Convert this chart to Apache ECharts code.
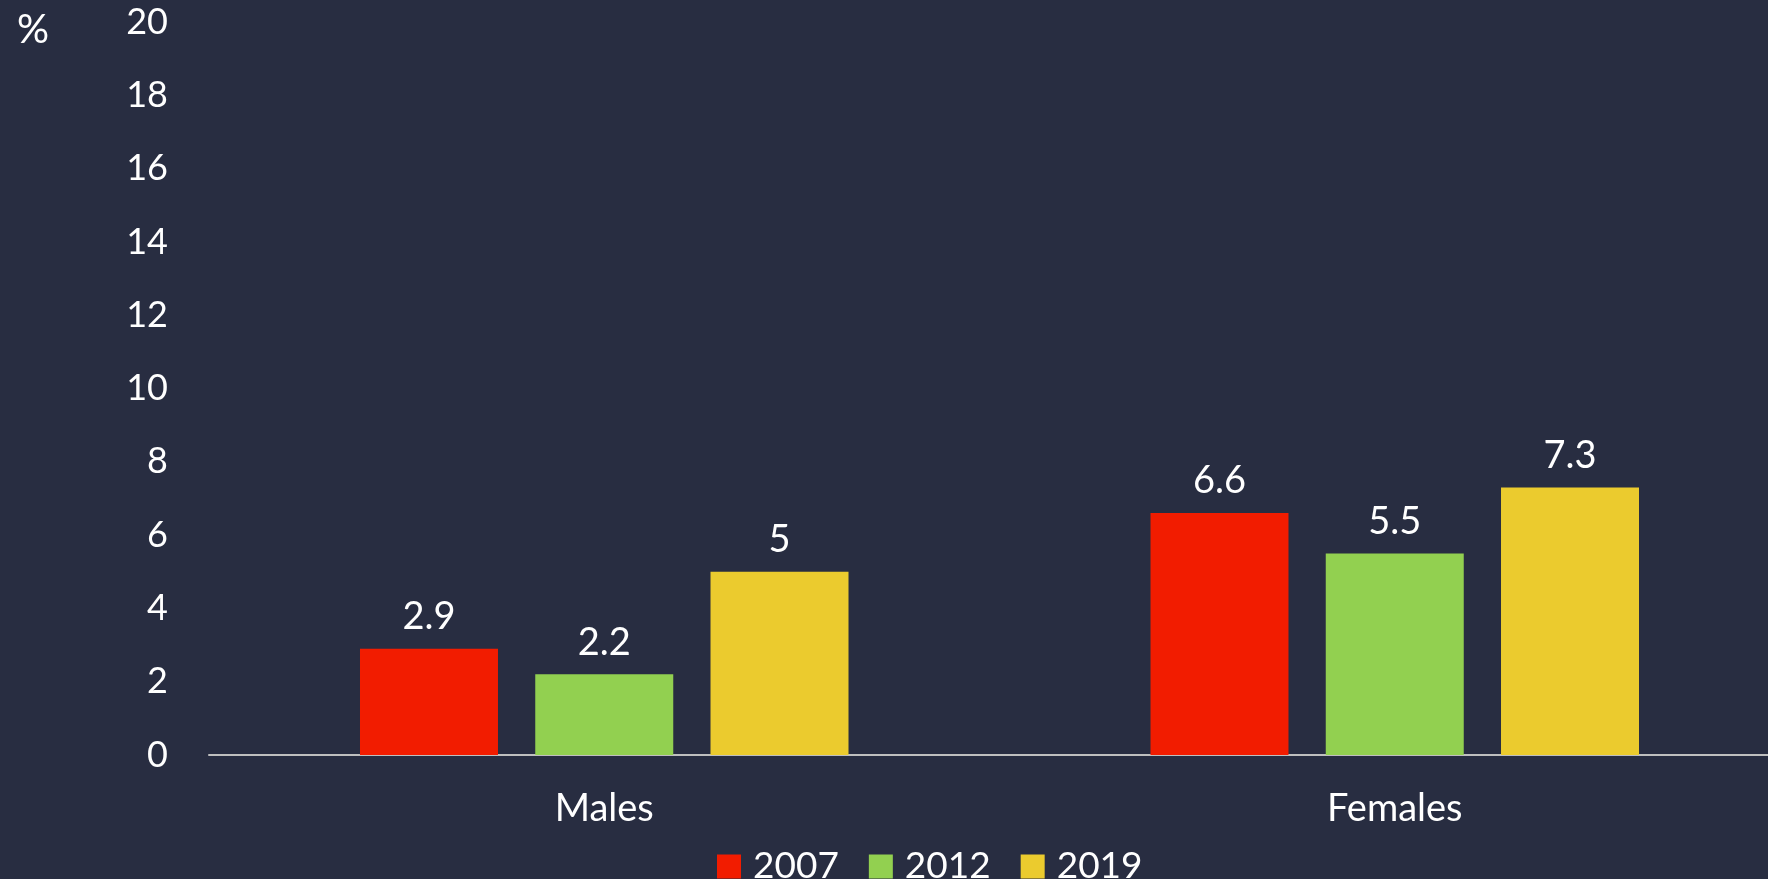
<!DOCTYPE html>
<html>
<head>
<meta charset="utf-8">
<script src="https://cdn.jsdelivr.net/npm/echarts@6/dist/echarts.min.js"></script>
<style>
  html, body { margin: 0; padding: 0; background: #282d41; }
  #main { width: 1768px; height: 879px; }
</style>
</head>
<body>
<div id="main"></div>
<script>
// 类别与年份
var categories = ['Males', 'Females'];
var years = ['2007', '2012', '2019'];
// 各年份数值 (%)
var values2007 = [2.9, 6.6];
var values2012 = [2.2, 5.5];
var values2019 = [5, 7.3];
var colors = ['#f21c00', '#92d050', '#ebcb2e'];

var fontFamily = 'Lato, "Open Sans", sans-serif';

function makeSeries(name, data, color) {
    return {
        name: name,
        type: 'bar',
        data: data,
        barWidth: 138,
        barGap: '27%',
        itemStyle: { color: color },
        label: {
            show: true,
            position: 'top',
            distance: 13,
            color: '#ffffff',
            fontSize: 38,
            fontFamily: fontFamily
        }
    };
}

var myChart = echarts.init(document.getElementById('main'));
var option = {
    backgroundColor: '#282d41',
    animation: false,
    textStyle: { fontFamily: fontFamily },
    grid: { left: 209, right: -22, top: 22, bottom: 124, outerBoundsMode: 'none' },
    legend: {
        data: years,
        top: 843,
        left: 712,
        itemWidth: 24,
        itemHeight: 24,
        itemGap: 30,
        icon: 'rect',
        textStyle: { color: '#ffffff', fontSize: 37, fontFamily: fontFamily, padding: [0, 0, 0, 7] }
    },
    graphic: [{
        type: 'text',
        left: 17,
        top: 10,
        style: { text: '%', fill: '#ffffff', font: '40px ' + fontFamily }
    }],
    xAxis: {
        type: 'category',
        data: categories,
        axisLine: { lineStyle: { color: '#bfbfbf', width: 2 } },
        axisTick: { show: false },
        axisLabel: { color: '#ffffff', fontSize: 38, margin: 35, fontFamily: fontFamily }
    },
    yAxis: {
        type: 'value',
        min: 0,
        max: 20,
        interval: 2,
        splitLine: { show: false },
        axisLine: { show: false },
        axisTick: { show: false },
        axisLabel: { color: '#ffffff', fontSize: 36, margin: 41, fontFamily: fontFamily }
    },
    series: [
        makeSeries(years[0], values2007, colors[0]),
        makeSeries(years[1], values2012, colors[1]),
        makeSeries(years[2], values2019, colors[2])
    ]
};
myChart.setOption(option);
</script>
</body>
</html>
